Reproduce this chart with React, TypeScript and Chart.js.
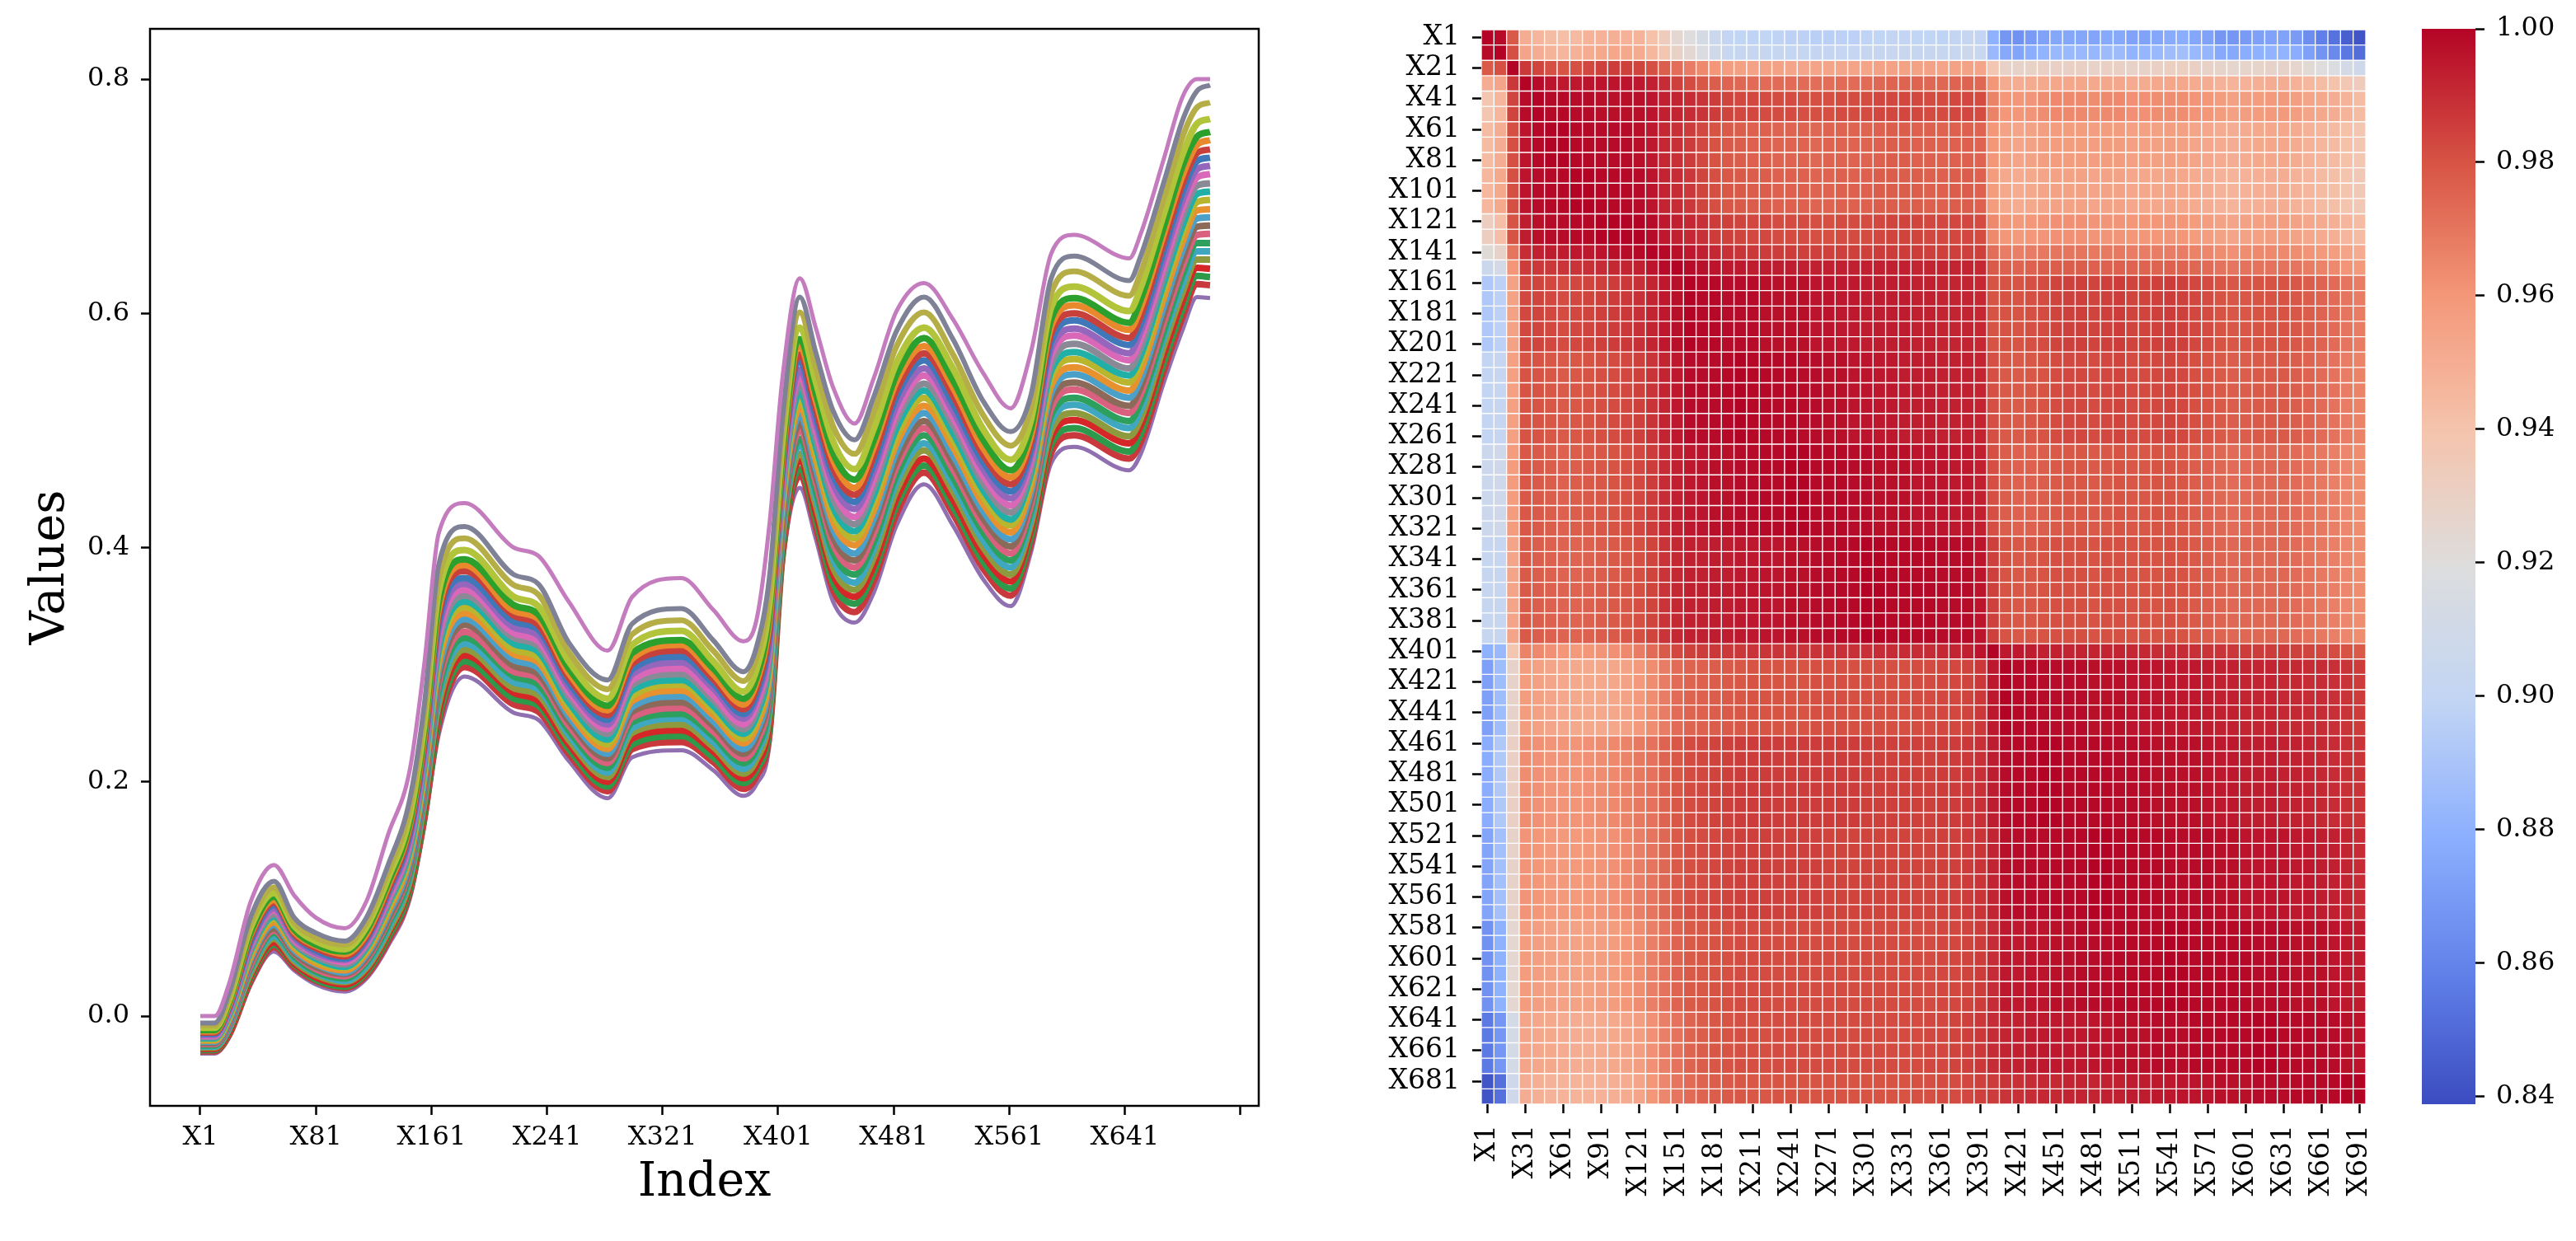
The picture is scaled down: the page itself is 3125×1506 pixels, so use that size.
import React, { useEffect, useRef } from "react";
import { Chart, registerables } from "chart.js";

Chart.register(...registerables);

const FONT = "'DejaVu Serif', serif";

// ---------- left chart: spectra, read at these indices (values in thousandths) ----------
const KNOTS = [0,10,20,35,51,65,80,100,115,130,145,155,165,183,217,234,255,282,299,333,355,376,385,394,403,415,426,438,453,466,482,501,521,542,561,575,589,605,643,651,667,680,690,699];

const s01 = [0,0,28,98,129,103,84,75,98,155,210,300,412,438,400,393,354,312,358,374,347,320,338,420,545,630,588,537,506,544,602,626,595,549,519,567,651,667,647,668,732,785,800,800];
const s02 = [-6,-6,20,85,115,84,71,64,84,129,185,265,385,418,377,369,319,287,335,348,321,294,315,375,510,614,567,517,492,528,585,614,578,525,499,530,630,649,628,649,712,765,790,795];
const s03 = [-8,-8,17,80,110,80,67,61,80,123,178,257,373,408,368,360,311,279,326,338,312,286,306,364,500,601,554,504,480,515,572,601,565,513,487,519,617,636,615,635,698,751,776,780];
const s04 = [-10,-10,14,76,105,77,64,57,76,118,171,249,362,398,358,350,303,271,317,329,303,277,296,352,490,588,542,491,467,501,558,588,553,501,475,509,605,623,602,622,685,736,762,766];
const s05 = [-12,-12,12,72,102,74,61,55,73,114,166,242,353,390,351,343,297,265,310,321,297,271,289,344,482,578,532,481,458,491,548,579,543,492,466,501,595,613,592,612,674,726,751,755];
const s06 = [-13,-13,10,70,99,72,60,53,70,111,163,238,347,385,346,339,293,261,305,317,292,266,285,338,477,572,526,475,451,485,542,572,537,485,460,495,589,607,586,605,668,718,744,748];
const s07 = [-14,-14,9,68,97,70,58,51,68,108,160,234,342,380,342,334,289,257,301,312,288,262,280,332,472,565,519,468,445,478,535,566,530,479,454,490,583,600,579,598,661,711,737,740];
const s08 = [-15,-15,7,65,95,69,56,49,66,106,156,230,336,374,337,330,285,253,296,307,284,258,275,326,467,559,513,462,439,471,529,560,523,473,448,484,576,594,573,591,654,704,730,733];
const s09 = [-16,-16,6,63,92,67,54,48,64,103,153,226,330,369,332,325,281,249,292,302,280,254,271,321,462,552,507,455,433,465,522,553,517,467,442,479,570,587,566,585,647,697,723,726];
const s10 = [-17,-17,4,61,90,65,53,46,62,100,149,222,324,364,327,320,277,245,287,297,274,249,266,315,457,546,500,449,426,458,515,547,511,461,436,474,564,581,560,578,640,690,716,719];
const s11 = [-18,-18,3,58,87,63,51,44,60,97,146,218,318,359,323,316,273,241,283,292,270,245,261,309,452,539,494,442,420,451,509,540,505,455,430,468,557,574,553,571,633,683,709,711];
const s12 = [-19,-19,1,56,85,62,49,42,58,95,142,213,312,354,318,311,268,236,278,287,265,241,256,303,447,532,487,435,414,444,502,534,498,449,424,463,551,567,547,564,626,675,702,704];
const s13 = [-20,-20,-1,54,83,60,47,41,56,92,139,209,307,349,313,306,264,232,273,283,261,237,252,298,442,526,481,429,408,438,495,528,492,443,419,458,545,561,541,558,620,668,695,697];
const s14 = [-21,-21,-2,51,80,58,45,39,54,89,136,205,301,344,309,302,260,228,269,278,257,233,247,292,437,519,475,422,402,431,489,521,486,437,413,452,538,554,534,551,613,661,688,689];
const s15 = [-22,-22,-4,49,78,56,44,37,52,86,132,201,295,339,304,297,256,224,264,273,252,228,242,286,432,513,468,416,395,424,482,515,479,431,407,447,532,548,528,544,606,654,681,682];
const s16 = [-23,-23,-5,47,75,54,42,36,50,83,129,197,289,334,299,292,252,220,260,268,248,224,238,281,427,506,462,409,389,418,475,508,473,425,401,442,526,541,521,537,599,647,674,675];
const s17 = [-24,-24,-7,44,73,53,40,34,48,81,126,193,284,328,294,288,248,216,255,263,243,220,233,275,422,500,456,403,383,411,469,502,467,419,395,436,519,535,515,531,592,640,667,668];
const s18 = [-25,-25,-8,42,71,51,38,32,46,78,122,189,278,323,290,283,244,212,251,258,239,216,228,269,417,493,449,396,377,404,462,496,460,413,389,431,513,528,508,524,585,633,660,660];
const s19 = [-26,-26,-10,40,68,49,37,30,43,75,119,185,272,318,285,279,240,208,246,254,234,211,224,263,412,487,443,390,370,398,456,489,454,406,383,425,507,522,502,517,579,625,653,653];
const s20 = [-27,-27,-11,37,66,47,35,29,41,72,115,181,266,313,280,274,236,204,242,249,230,207,219,258,407,480,437,383,364,391,449,483,448,400,377,420,500,515,495,510,572,618,646,646];
const s21 = [-28,-28,-13,35,63,45,33,27,39,70,112,176,260,308,276,269,232,200,237,244,226,203,214,252,402,474,430,377,358,384,442,476,441,394,371,415,494,509,489,504,565,611,639,638];
const s22 = [-29,-29,-14,33,61,44,31,25,37,67,108,172,254,303,271,265,228,196,232,239,221,199,210,246,397,467,424,370,352,378,436,470,435,388,365,409,488,502,482,497,558,604,632,631];
const s23 = [-30,-30,-16,30,59,42,30,24,35,64,105,168,249,298,266,260,224,192,228,234,217,194,205,241,392,461,418,364,345,371,429,464,429,382,359,404,481,496,476,490,551,597,625,624];
const s24 = [-32,-32,-18,27,55,39,27,21,32,60,100,162,240,290,259,253,218,186,221,227,210,188,198,232,384,451,408,354,336,361,419,454,419,373,350,396,472,486,466,480,541,586,614,613];
const allSeries = [s01,s02,s03,s04,s05,s06,s07,s08,s09,s10,s11,s12,s13,s14,s15,s16,s17,s18,s19,s20,s21,s22,s23,s24];

const seriesColors = ["#c47cbe","#7f8296","#b5ad46","#b2c43a","#2ca02c","#e8892c","#c8403c","#3f78b8","#9467bd","#d968b8","#8a8a96","#20b0a8","#b8b52e","#e8912f","#4aa0c8","#8c6a5a","#d9607e","#2ca05c","#3fa8c0","#8d9a3e","#d62728","#2c9a4a","#c8383c","#9070b0"];
const seriesWidths = [5,6,7,8,8,8,8,8,8,8,8,8,8,8,8,8,8,8,8,8,8,8,8,5];

const xTickValues = [0,80,160,240,320,400,480,560,640,720];
const xTickLabels = ["X1","X81","X161","X241","X321","X401","X481","X561","X641",""];
const yTickValues = [0,0.2,0.4,0.6,0.8];

// ---------- right chart: correlation rows (thousandths), columns X1..X691 ----------
const categories = ["X1","X11","X21","X31","X41","X51","X61","X71","X81","X91","X101","X111","X121","X131","X141","X151","X161","X171","X181","X191","X201","X211","X221","X231","X241","X251","X261","X271","X281","X291","X301","X311","X321","X331","X341","X351","X361","X371","X381","X391","X401","X411","X421","X431","X441","X451","X461","X471","X481","X491","X501","X511","X521","X531","X541","X551","X561","X571","X581","X591","X601","X611","X621","X631","X641","X651","X661","X671","X681","X691"];

const p0 = [1000,998,978, 950,946,943,942,944,947,948,949,948,947,941,934, 925,920,913,905,900, 899,898,899,898,897, 897,896,896,897,897, 898,899,900,900,899, 899,898,900,902,900, 880, 868,866,870,873,875, 875,875,874,876,876, 873,873,875,877,878, 875,873,868,868,870, 872,873,873,870,864, 858,853,846,842];
const p1 = [998,1000,981, 954,950,947,946,948,951,952,953,952,951,945,938, 929,924,917,909,904, 903,902,903,902,901, 901,900,900,901,901, 902,903,904,904,903, 903,902,904,906,904, 884, 876,874,878,881,884, 884,884,883,885,885, 881,882,884,886,887, 884,882,876,876,878, 880,881,881,878,872, 867,862,855,851];
const p2 = [978,981,1000, 987,984,981,980,981,983,985,986,985,984,981,977, 972,968,964,960,957, 956,955,955,955,954, 954,954,954,954,954, 954,955,955,955,955, 955,954,955,955,954, 938, 929,928,929,930,930, 930,930,929,930,930, 929,929,930,931,931, 930,929,927,926,927, 927,928,928,926,923, 920,917,912,908];
const p3 = [950,954,987, 1000,998,996,995,995,996,996,996,996,995,993,990, 985,982,979,977,975, 974,973,973,973,973, 973,972,972,973,973, 973,974,975,975,975, 974,974,975,975,974, 960, 951,950,951,952,953, 953,953,952,953,953, 951,951,952,953,953, 951,950,948,947,948, 949,950,950,948,945, 943,940,937,934];
const p4 = [938,946,984, 998,1000,999,999,998,998,997,997,997,997,996,993, 992,990,988,986,984, 983,983,982,982,982, 981,981,981,982,982, 982,983,983,983,983, 982,982,983,983,982, 966, 960,960,961,963,964, 964,964,963,964,964, 962,962,963,963,963, 961,960,958,956,957, 958,959,959,957,954, 952,950,947,943];
const p6 = [943,950,981, 996,999,1000,1000,999,999,998,998,998,997,995,991, 989,986,983,980,978, 977,976,976,975,975, 975,974,975,975,975, 975,976,977,977,976, 976,975,976,976,975, 960, 955,954,955,957,958, 958,958,957,958,958, 956,956,956,957,956, 954,953,951,950,951, 952,953,953,951,948, 946,944,941,938];
const p9 = [945,952,981, 996,998,999,999,1000,1000,999,999,999,998,996,992, 990,987,984,981,979, 978,977,977,976,976, 976,975,975,976,976, 976,977,977,977,977, 976,976,977,977,976, 958, 952,951,952,954,955, 955,955,954,955,955, 953,953,953,954,953, 951,950,948,947,948, 949,950,950,948,946, 944,942,939,936];
const p12 = [932,942,980, 994,997,998,998,999,999,1000,1000,1000,1000,998,995, 993,991,989,986,985, 984,983,983,982,982, 982,981,981,982,982, 982,983,984,984,984, 983,983,983,983,982, 964, 960,959,960,961,962, 962,962,961,961,961, 960,960,960,961,960, 958,957,955,954,955, 956,957,957,955,953, 951,949,946,943];
const p14 = [922,928,970, 990,993,994,994,995,995,996,997,998,999,1000,999, 997,995,993,991,989, 988,987,986,986,986, 985,985,985,985,985, 985,986,986,986,986, 985,985,985,985,985, 972, 968,967,968,969,970, 970,970,969,969,969, 968,968,968,968,968, 966,965,963,962,963, 964,964,964,963,961, 959,957,954,951];
const p15 = [905,912,960, 986,987,987,988,988,989,990,991,992,993,996,998, 1000,998,997,996,995, 995,994,994,994,994, 993,993,993,993,993, 993,993,993,993,992, 992,992,992,992,991, 978, 976,975,976,977,977, 977,977,976,976,976, 975,975,975,976,975, 974,973,971,970,971, 971,971,971,970,968, 966,964,961,959];
const p17 = [892,897,955, 983,984,983,982,983,984,985,986,987,989,992,995, 997,1000,999,999,998, 998,998,997,997,997, 997,996,996,995,995, 994,994,994,994,993, 993,992,992,992,991, 980, 980,980,981,982,984, 985,985,984,985,986, 984,984,985,986,985, 983,982,980,979,979, 980,980,980,979,977, 975,973,970,968];
const p22 = [900,903,956, 980,980,979,978,979,980,981,982,983,985,988,992, 995,998,998,998,999, 1000,999,999,999,999, 998,998,997,997,996, 996,995,995,994,994, 994,993,993,993,992, 981, 978,978,979,980,982, 983,983,982,983,984, 982,982,983,984,983, 981,980,978,977,977, 978,978,978,977,975, 973,971,968,966];
const p28 = [905,908,958, 979,978,977,976,977,978,979,980,981,983,986,990, 993,995,996,997,997, 998,998,999,999,1000, 1000,999,999,999,998, 998,997,997,997,996, 996,996,995,995,993, 981, 977,976,976,977,978, 979,979,978,979,980, 979,979,980,980,979, 977,976,974,973,973, 974,974,974,973,971, 969,967,965,963];
const p34 = [902,903,954, 978,977,976,975,975,976,977,978,979,981,984,988, 991,993,993,994,994, 995,995,996,996,997, 997,998,998,999,999, 1000,1000,999,999,999, 999,998,998,998,996, 985, 980,979,979,980,981, 981,981,980,981,981, 980,980,980,981,980, 978,977,975,974,974, 974,974,974,973,971, 969,967,965,963];
const p40 = [880,884,938, 966,964,962,960,959,960,961,962,964,968,973,978, 983,985,986,987,987, 987,988,988,988,988, 988,988,989,989,989, 989,990,990,990,990, 990,991,992,993,996, 1000, 995,995,994,993,993, 992,992,992,992,992, 991,991,990,990,990, 989,988,988,987,986, 986,986,986,985,984, 983,982,980,978];
const p42 = [872,886,928, 958,956,954,953,952,952,952,953,955,959,963,968, 973,975,976,977,978, 979,980,980,980,980, 980,981,981,981,981, 981,981,981,981,982, 982,983,983,984,987, 995, 1000,999,999,998,998, 998,998,997,997,997, 996,996,996,995,995, 995,994,993,993,992, 992,992,991,991,990, 990,989,988,986];
const p48 = [878,892,930, 963,962,961,961,961,962,963,964,966,969,971,975, 979,982,983,984,985, 986,986,986,986,986, 986,986,986,986,986, 985,985,985,985,985, 985,986,986,987,989, 994, 998,999,999,1000,1000, 999,999,999,999,998, 998,998,997,997,997, 997,996,995,995,994, 994,994,993,993,992, 991,990,989,988];
const p54 = [874,888,928, 961,960,959,959,959,960,961,962,964,967,970,974, 978,981,982,983,984, 985,985,985,985,985, 985,985,984,984,984, 984,984,984,984,984, 984,985,985,986,988, 992, 997,998,998,998,999, 999,999,1000,1000,999, 999,999,999,998,998, 998,998,997,997,996, 996,996,996,995,995, 994,993,992,990];
const p60 = [866,880,925, 958,957,956,955,955,956,957,958,960,963,967,971, 975,978,979,980,981, 982,982,982,982,982, 982,982,982,982,982, 982,982,982,982,982, 982,983,983,984,986, 990, 995,995,996,996,997, 997,998,998,998,999, 999,999,999,1000,1000, 999,999,999,999,999, 998,998,998,997,997, 997,996,995,994];
const p66 = [856,868,912, 954,953,952,951,950,950,951,952,954,957,962,967, 971,975,977,979,980, 981,981,981,982,982, 982,982,982,982,982, 982,982,982,982,982, 983,983,984,985,987, 990, 992,993,994,995,995, 995,995,996,996,997, 997,997,998,998,998, 999,999,999,999,999, 1000,1000,999,999,999, 999,998,997,996];
const p69 = [842,852,908, 950,949,948,947,947,947,948,949,951,954,960,965, 970,973,975,977,978, 979,979,979,980,980, 980,980,980,980,980, 980,980,980,980,981, 981,982,982,983,985, 986, 988,989,990,991,991, 992,992,992,993,993, 994,994,995,995,996, 996,996,997,997,997, 998,998,998,999,999, 999,999,1000,1000];

const rowProfiles = [p0,p1,p2,p3,p4,p4,p6,p6,p6,p9,p9,p9,p12,p12,p14,p15,
  p17,p17,p17,p17,p17, p22,p22,p22,p22,p22,p22, p28,p28,p28,p28,p28,p28, p34,p34,p34,p34,p34,p34,p34, p40,
  p42,p42,p42,p42,p42, p48,p48,p48,p48,p48,p48, p54,p54,p54,p54,p54,p54, p60,p60,p60,p60,p60,p60, p66,p66,p66,p66, p69,p69];

const coolwarm = [[59,76,192],[98,130,234],[141,176,254],[194,213,244],[221,221,221],[245,196,173],[244,152,122],[215,84,68],[180,4,38]];
const vMin = 0.8388;
const vMax = 1.0;
const colorbarTicks = [0.84,0.86,0.88,0.9,0.92,0.94,0.96,0.98,1.0];

function corrColor(thousandths: number) {
  const t = Math.max(0, Math.min(1, (thousandths / 1000 - vMin) / (vMax - vMin))) * (coolwarm.length - 1);
  const i = Math.min(coolwarm.length - 2, Math.floor(t));
  const f = t - i;
  const c = coolwarm[i].map((v, k) => Math.round(v + (coolwarm[i + 1][k] - v) * f));
  return `rgb(${c[0]},${c[1]},${c[2]})`;
}

const frame = {
  id: "frame",
  afterDatasetsDraw(chart: any) {
    const { ctx, chartArea: a } = chart;
    ctx.save();
    ctx.strokeStyle = "#000";
    ctx.lineWidth = 2.5;
    ctx.strokeRect(a.left, a.top, a.right - a.left, a.bottom - a.top);
    ctx.restore();
  },
};

const tickFont = { family: FONT, size: 32 };
const gridTicks = { display: true, drawOnChartArea: false, tickLength: 11, tickWidth: 2.5, tickColor: "#000" };

export default function App() {
  const lineRef = useRef<HTMLCanvasElement>(null);
  const heatRef = useRef<HTMLCanvasElement>(null);
  const barRef = useRef<HTMLCanvasElement>(null);

  useEffect(() => {
    const lineChart = new Chart(lineRef.current as any, {
      type: "line",
      data: {
        datasets: allSeries.map((s, i) => ({
          data: s.map((v, k) => ({ x: KNOTS[k], y: v / 1000 })),
          borderColor: seriesColors[i],
          borderWidth: seriesWidths[i],
          pointRadius: 0,
          cubicInterpolationMode: "monotone",
          fill: false,
        })),
      } as any,
      options: {
        animation: false,
        responsive: false,
        devicePixelRatio: 1,
        events: [],
        layout: { padding: { left: 0, top: 35, right: 33, bottom: 0 } },
        plugins: { legend: { display: false }, tooltip: { enabled: false } },
        scales: {
          x: {
            type: "linear",
            min: -34.8,
            max: 732.7,
            afterBuildTicks: (a: any) => { a.ticks = xTickValues.map((value) => ({ value })); },
            afterFit: (a: any) => { a.height = 164; },
            ticks: {
              font: tickFont, color: "#000", padding: 8, autoSkip: false, maxRotation: 0, minRotation: 0,
              callback: (v: any) => xTickLabels[xTickValues.indexOf(v)],
            },
            grid: gridTicks,
            border: { display: false },
            title: { display: true, text: "Index", color: "#000", font: { family: FONT, size: 57 }, padding: { top: 0, bottom: 36 } },
          },
          y: {
            type: "linear",
            min: -0.0767,
            max: 0.843,
            afterBuildTicks: (a: any) => { a.ticks = yTickValues.map((value) => ({ value })); },
            afterFit: (a: any) => { a.width = 182; },
            ticks: { font: tickFont, color: "#000", padding: 14, callback: (v: any) => Number(v).toFixed(1) },
            grid: gridTicks,
            border: { display: false },
            title: { display: true, text: "Values", color: "#000", font: { family: FONT, size: 57 }, padding: { top: 28, bottom: 0 } },
          },
        },
      } as any,
      plugins: [frame],
    });

    const heatChart = new Chart(heatRef.current as any, {
      type: "bar",
      data: {
        labels: categories,
        datasets: rowProfiles.map((row) => ({
          data: row.map(() => 1),
          backgroundColor: row.map(corrColor),
          borderColor: "#fff",
          borderWidth: 1,
          borderSkipped: false,
          barPercentage: 1,
          categoryPercentage: 1,
        })),
      } as any,
      options: {
        animation: false,
        responsive: false,
        devicePixelRatio: 1,
        events: [],
        layout: { padding: { left: 0, top: 36, right: 80, bottom: 0 } },
        plugins: { legend: { display: false }, tooltip: { enabled: false } },
        scales: {
          x: {
            stacked: true,
            afterBuildTicks: (a: any) => { a.ticks = a.ticks.filter((t: any) => t.value % 3 === 0); },
            afterFit: (a: any) => { a.height = 166; },
            ticks: { font: { family: FONT, size: 33 }, color: "#000", padding: 14, autoSkip: false, minRotation: 90, maxRotation: 90 },
            grid: { ...gridTicks, offset: false },
            border: { display: false },
          },
          y: {
            type: "linear",
            stacked: true,
            reverse: true,
            min: 0,
            max: 70,
            afterBuildTicks: (a: any) => {
              a.ticks = categories.map((_, i) => i).filter((i) => i % 2 === 0).map((i) => ({ value: i + 0.5 }));
            },
            afterFit: (a: any) => { a.width = 237; },
            ticks: {
              font: { family: FONT, size: 33 }, color: "#000", padding: 15, autoSkip: false,
              callback: (v: any) => categories[Math.floor(v)],
            },
            grid: gridTicks,
            border: { display: false },
          },
        },
      } as any,
    });

    const barChart = new Chart(barRef.current as any, {
      type: "bar",
      data: {
        labels: [""],
        datasets: [{
          data: [[vMin, vMax]],
          barPercentage: 1,
          categoryPercentage: 1,
          backgroundColor: (c: any) => {
            const a = c.chart.chartArea;
            if (!a || !Number.isFinite(a.top) || !Number.isFinite(a.bottom)) return "#b40426";
            const g = c.chart.ctx.createLinearGradient(0, a.bottom, 0, a.top);
            coolwarm.forEach((s, i) => g.addColorStop(i / (coolwarm.length - 1), `rgb(${s[0]},${s[1]},${s[2]})`));
            return g;
          },
        }],
      } as any,
      options: {
        animation: false,
        responsive: false,
        devicePixelRatio: 1,
        events: [],
        layout: { padding: { left: 38, top: 35, right: 0, bottom: 166 } },
        plugins: { legend: { display: false }, tooltip: { enabled: false } },
        scales: {
          x: { display: false },
          y: {
            position: "right",
            min: vMin,
            max: vMax,
            afterBuildTicks: (a: any) => { a.ticks = colorbarTicks.map((value) => ({ value })); },
            afterFit: (a: any) => { a.width = 122; },
            ticks: { font: tickFont, color: "#000", padding: 14, callback: (v: any) => Number(v).toFixed(2) },
            grid: gridTicks,
            border: { display: false },
          },
        },
      } as any,
    });
    barChart.update();

    return () => {
      lineChart.destroy();
      heatChart.destroy();
      barChart.destroy();
    };
  }, []);

  const abs = (left: number, width: number): React.CSSProperties => ({ position: "absolute", left, top: 0, width, height: 1506 });
  return (
    <div style={{ position: "absolute", left: 0, top: 0, width: 3125, height: 1506, overflow: "hidden", background: "#fff" }}>
      <canvas ref={lineRef} width={1560} height={1506} style={abs(0, 1560)} />
      <canvas ref={heatRef} width={1390} height={1506} style={abs(1560, 1390)} />
      <canvas ref={barRef} width={225} height={1506} style={abs(2900, 225)} />
    </div>
  );
}
